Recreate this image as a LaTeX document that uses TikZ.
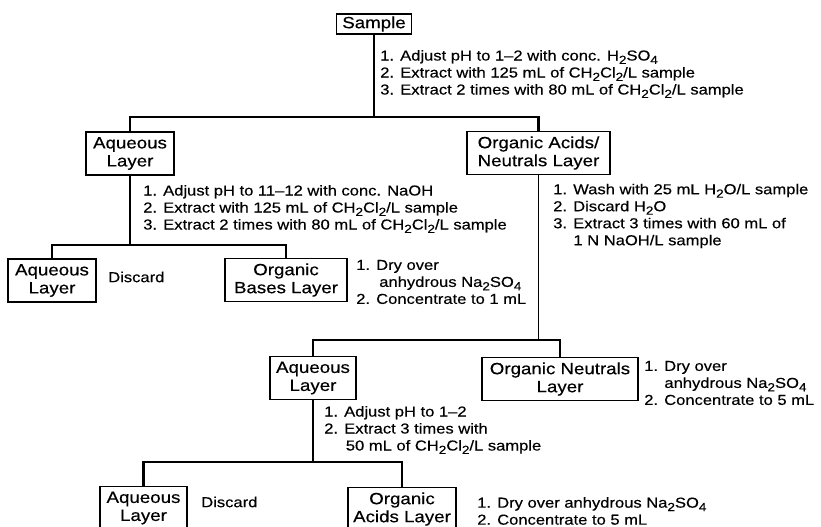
\documentclass[tikz,border=0pt]{standalone}
\usepackage{fontspec}
\setmainfont{Liberation Sans}[FakeStretch=1.15, FakeBold=0.4]
\usepackage{tikz}
\usetikzlibrary{positioning}

\newcommand{\chem}[1]{\raisebox{-0.45ex}{\fontsize{8.8}{8.8}\selectfont #1}}

\begin{document}
\begin{tikzpicture}[
    x=0.75pt, y=-0.75pt,
    layerbox/.style={draw, rectangle, line width=1.2pt, align=center, inner xsep=2pt, inner ysep=3pt, minimum height=32pt, font=\fontsize{12.2}{13.5}\selectfont},
    steps/.style={align=left, anchor=west, inner sep=0pt, font=\fontsize{10.8}{12.75}\selectfont},
    trunk/.style={draw, line width=0.8pt},
    branch/.style={draw, line width=2.2pt}
]
    \useasboundingbox (0,0) rectangle (821,527);

    % Layers
    \node[layerbox, minimum height=0pt, inner ysep=2pt, minimum width=56pt] (sample) at (374,24) {Sample};
    \node[layerbox, minimum width=66pt] (aqA) at (130,153.5) {Aqueous\\Layer};
    \node[layerbox, minimum width=107pt] (orgAN) at (538.5,153) {Organic Acids/\\Neutrals Layer};
    \node[layerbox, minimum width=66pt] (aqB) at (52,280.5) {Aqueous\\Layer};
    \node[layerbox, minimum width=91.5pt] (orgB) at (286,280) {Organic\\Bases Layer};
    \node[layerbox, minimum width=64.5pt] (aqC) at (313,378) {Aqueous\\Layer};
    \node[layerbox, minimum width=117pt] (orgN) at (560,379) {Organic Neutrals\\Layer};
    \node[layerbox, minimum width=65pt] (aqD) at (143.5,508) {Aqueous\\Layer};
    \node[layerbox, minimum width=81pt] (orgAc) at (402,509) {Organic\\Acids Layer};

    % Junctions
    \coordinate (j1) at (374,117);
    \coordinate (j2) at (130,245);
    \coordinate (j3) at (538.5,340);
    \coordinate (j4) at (313,462);

    % Connectors
    \draw[trunk] (sample) -- (j1);
    \draw[branch] (aqA.north) |- (j1) -| (orgAN.north);
    \draw[trunk] (aqA) -- (j2);
    \draw[branch] (aqB.north) |- (j2) -| (orgB.north);
    \draw[trunk] (orgAN) -- (j3);
    \draw[branch] (aqC.north) |- (j3) -| (orgN.north);
    \draw[trunk] (aqC) -- (j4);
    \draw[branch] (aqD.north) |- (j4) -| (orgAc.north);

    % Procedures
    \node[steps] (prepS) at (380,74) {1. Adjust pH to 1--2 with conc. H\chem{2}SO\chem{4}\\
        2. Extract with 125 mL of CH\chem{2}Cl\chem{2}/L sample\\
        3. Extract 2 times with 80 mL of CH\chem{2}Cl\chem{2}/L sample};
    \node[steps] (prepA) at (143,209) {1. Adjust pH to 11--12 with conc. NaOH\\
        2. Extract with 125 mL of CH\chem{2}Cl\chem{2}/L sample\\
        3. Extract 2 times with 80 mL of CH\chem{2}Cl\chem{2}/L sample};
    \node[steps] (prepO) at (553,216) {1. Wash with 25 mL H\chem{2}O/L sample\\
        2. Discard H\chem{2}O\\
        3. Extract 3 times with 60 mL of\\
        \hspace*{1.4em}1 N NaOH/L sample};
    \node[steps] (discB) at (108,277) {Discard};
    \node[steps] (dryB) at (356,282) {1. Dry over\\
        \hspace*{1.6em}anhydrous Na\chem{2}SO\chem{4}\\
        2. Concentrate to 1 mL};
    \node[steps] (dryN) at (644,383) {1. Dry over\\
        \hspace*{1.4em}anhydrous Na\chem{2}SO\chem{4}\\
        2. Concentrate to 5 mL};
    \node[steps] (prepC) at (324,430) {1. Adjust pH to 1--2\\
        2. Extract 3 times with\\
        \hspace*{1.5em}50 mL of CH\chem{2}Cl\chem{2}/L sample};
    \node[steps] (discD) at (201,502) {Discard};
    \node[steps] (dryAc) at (477,511) {1. Dry over anhydrous Na\chem{2}SO\chem{4}\\
        2. Concentrate to 5 mL};
\end{tikzpicture}
\end{document}
